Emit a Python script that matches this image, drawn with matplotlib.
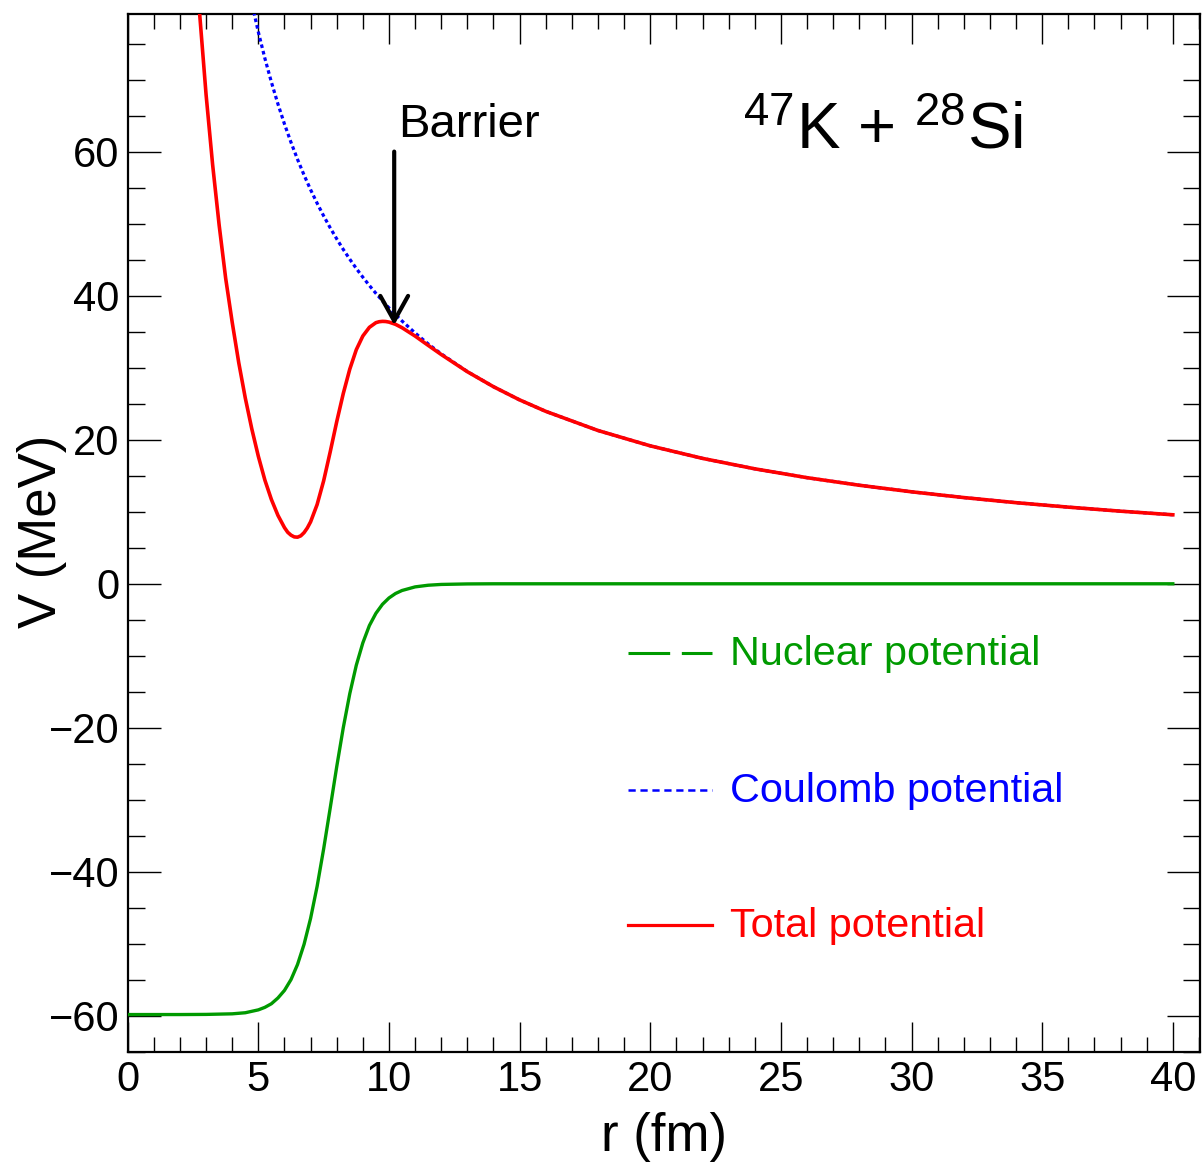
import matplotlib
matplotlib.use("Agg")
import matplotlib.pyplot as plt
from matplotlib.ticker import MultipleLocator

plt.rcParams['font.family'] = ['Liberation Sans', 'DejaVu Sans']
plt.rcParams['mathtext.fontset'] = 'custom'
plt.rcParams['mathtext.rm'] = 'Liberation Sans'
plt.rcParams['mathtext.it'] = 'Liberation Sans:italic'
plt.rcParams['lines.scale_dashes'] = False

# DATA

r_nuc = [0, 1, 2, 3, 4, 4.5, 5, 5.25, 5.5, 5.75, 6, 6.25, 6.5, 6.75, 7, 7.25,
         7.5, 7.75, 8, 8.25, 8.5, 8.75, 9, 9.25, 9.5, 9.75, 10, 10.25, 10.5,
         11, 11.5, 12, 13, 14, 15, 20, 25, 30, 35, 40]
v_nuc = [-59.8, -59.8, -59.8, -59.78, -59.7, -59.55, -59.15, -58.8, -58.3,
         -57.5, -56.45, -54.95, -52.85, -50.05, -46.45, -42.0, -36.8, -31.15,
         -25.4, -20.0, -15.25, -11.3, -8.2, -5.8, -4.1, -2.85, -1.97, -1.35,
         -0.93, -0.43, -0.2, -0.09, -0.02, 0, 0, 0, 0, 0, 0, 0]

r_coul = [4.5, 4.75, 5, 5.25, 5.5, 5.75, 6, 6.25, 6.5, 6.75, 7, 7.25, 7.5,
          7.75, 8, 8.25, 8.5, 8.75, 9, 9.25, 9.5, 9.75, 10, 10.25, 10.5, 11,
          11.5, 12, 13, 14, 15, 16, 18, 20, 22, 24, 26, 28, 30, 32, 34, 36,
          38, 40]
v_coul = [85.1, 80.6, 76.6, 72.95, 69.64, 66.61, 63.83, 61.28, 58.92, 56.74,
          54.71, 52.83, 51.07, 49.42, 47.88, 46.42, 45.06, 43.77, 42.56,
          41.41, 40.32, 39.28, 38.3, 37.37, 36.48, 34.82, 33.3, 31.92, 29.46,
          27.36, 25.53, 23.94, 21.28, 19.15, 17.41, 15.96, 14.73, 13.68,
          12.77, 11.97, 11.26, 10.64, 10.08, 9.58]

r_tot = [2.5, 2.75, 3, 3.25, 3.5, 3.75, 4, 4.25, 4.5, 4.75, 5, 5.25, 5.5,
         5.75, 6, 6.125, 6.25, 6.375, 6.5, 6.625, 6.75, 6.875, 7, 7.25, 7.5,
         7.75, 8, 8.25, 8.5, 8.75, 9, 9.25, 9.5, 9.625, 9.75, 9.875, 10,
         10.25, 10.5, 11, 11.5, 12, 13, 14, 15, 16, 18, 20, 22, 24, 26, 28,
         30, 32, 34, 36, 38, 40]
v_tot = [93.2, 79.3, 67.9, 58.2, 49.8, 42.4, 36.3, 30.7, 25.8, 21.5, 17.7,
         14.4, 11.7, 9.5, 7.8, 7.15, 6.75, 6.51, 6.47, 6.66, 7.1, 7.75, 8.6,
         11.0, 14.3, 18.3, 22.5, 26.4, 29.8, 32.5, 34.4, 35.6, 36.25, 36.38,
         36.43, 36.41, 36.33, 36.02, 35.55, 34.39, 33.1, 31.83, 29.44, 27.36,
         25.53, 23.94, 21.28, 19.15, 17.41, 15.96, 14.73, 13.68, 12.77,
         11.97, 11.26, 10.64, 10.08, 9.58]

barrier_r = 10.2
barrier_v = 35.9

green = '#009a00'

# FIGURE

fig = plt.figure(figsize=(12.04, 11.70), dpi=100)
ax = fig.add_axes([0.10606, 0.10085, 0.8906, 0.88718])

ax.plot(r_nuc, v_nuc, color=green, lw=2.4, zorder=3)
ax.plot(r_coul, v_coul, color='blue', lw=2.3, dashes=(2.6, 2.2), zorder=4)
ax.plot(r_tot, v_tot, color='red', lw=2.6, zorder=5)

ax.set_xlim(0, 41.04)
ax.set_ylim(-65, 79.1)

ax.xaxis.set_major_locator(MultipleLocator(5))
ax.xaxis.set_minor_locator(MultipleLocator(1))
ax.yaxis.set_major_locator(MultipleLocator(20))
ax.yaxis.set_minor_locator(MultipleLocator(5))

ax.tick_params(axis='both', which='both', direction='in', top=True, right=True,
               width=1.0, color='black', labelsize=30)
ax.tick_params(axis='x', which='major', length=21.6, pad=6)
ax.tick_params(axis='x', which='minor', length=10.8)
ax.tick_params(axis='y', which='major', length=23.8, pad=6)
ax.tick_params(axis='y', which='minor', length=12)

for sp in ax.spines.values():
    sp.set_linewidth(1.6)

ax.set_xlabel('r (fm)', fontsize=38)
ax.set_ylabel('V (MeV)', fontsize=38)
ax.xaxis.set_label_coords(0.5, -0.058)
ax.yaxis.set_label_coords(-0.0566, 0.502)

# annotations
ax.text(23.55, 60.4, r'$^{47}$K + $^{28}$Si', fontsize=47, ha='left',
        va='baseline')
ax.text(10.35, 62.0, 'Barrier', fontsize=34, ha='left', va='baseline')
ax.annotate('', xy=(barrier_r, barrier_v), xytext=(barrier_r, 60.0),
            arrowprops=dict(arrowstyle='->,head_length=1.8,head_width=1.0',
                            lw=3, color='black', shrinkA=0, shrinkB=0,
                            mutation_scale=10), zorder=6)

# legend drawn by hand
x0, x1, xt = 0.4669, 0.5446, 0.5616
entries = [
    ('Nuclear potential', green, 2.2, (30, 8.4), 0.3847, 0.3728),
    ('Coulomb potential', 'blue', 1.8, (5.2, 3.4), 0.2524, 0.2411),
    ('Total potential', 'red', 2.3, None, 0.1224, 0.1105),
]
for label, col, lw, dash, yl, yt in entries:
    kw = dict(color=col, lw=lw, transform=ax.transAxes, clip_on=False)
    if dash is not None:
        kw['dashes'] = dash
    ax.plot([x0, x1], [yl, yl], **kw)
    ax.text(xt, yt, label, color=col, fontsize=29.8, transform=ax.transAxes,
            ha='left', va='baseline')

fig.savefig('out.png', dpi=100)
